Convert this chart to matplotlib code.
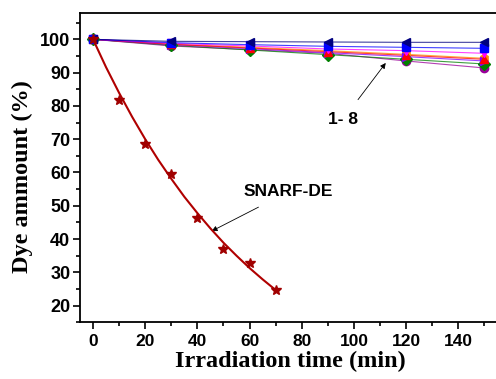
import matplotlib
matplotlib.use("Agg")
import matplotlib.pyplot as plt
from matplotlib.ticker import MultipleLocator

# ---- data ----
t_dyes = [0, 30, 60, 90, 120, 150]
dye1 = [100, 99.4, 99.3, 99.2, 99.1, 99.1]
dye2 = [100, 99.0, 98.4, 97.9, 97.6, 97.3]
dye3 = [100, 98.8, 98.0, 97.1, 96.6, 95.8]
dye4 = [100, 98.5, 97.4, 96.3, 95.2, 94.0]
dye5 = [100, 98.4, 97.2, 96.0, 94.8, 93.5]
dye6 = [100, 98.2, 96.8, 95.4, 94.0, 92.6]
dye7 = [100, 98.0, 96.9, 95.8, 93.5, 91.4]
dye8 = [100, 98.6, 97.6, 96.6, 95.5, 94.3]

t_snarf = [0, 10, 20, 30, 40, 50, 60, 70]
snarf = [100, 81.8, 68.6, 59.5, 46.3, 37.0, 32.7, 24.7]

t_fit = [0, 5, 10, 15, 20, 25, 30, 35, 40, 45, 50, 55, 60, 65, 70]
snarf_fit = [100, 91.6, 83.9, 76.7, 70.0, 63.8, 58.1, 52.7, 47.8, 43.2,
             38.9, 35.0, 31.3, 27.9, 24.7]

xticks = [0, 20, 40, 60, 80, 100, 120, 140]
yticks = [20, 30, 40, 50, 60, 70, 80, 90, 100]

series = [
    (dye8, "#ff8c00", "h"),
    (dye7, "#990099", "o"),
    (dye6, "#008000", "D"),
    (dye5, "#7f00ff", ">"),
    (dye4, "#ff0000", "^"),
    (dye3, "#ff00ff", "v"),
    (dye2, "#0000ff", "s"),
    (dye1, "#000080", "<"),
]

fig = plt.figure(figsize=(4.96, 3.79), dpi=100)
ax = fig.add_axes([80 / 496, 1 - 322.3 / 379, 420 / 496, (322.3 - 12.7) / 379])

for vals, col, mk in series:
    ax.plot(t_dyes, vals, color=col, lw=0.8, alpha=0.75, zorder=2)
    ax.plot(t_dyes, vals, ls="none", marker=mk, ms=6, color=col,
            markeredgecolor=col, zorder=3)

ax.plot(t_fit, snarf_fit, color="#b00000", lw=1.5, zorder=4)
ax.plot(t_snarf, snarf, ls="none", marker="*", ms=7.5, color="#a00000", zorder=5)

ax.set_xlim(-5, 156)
ax.set_ylim(15, 108)
ax.xaxis.set_minor_locator(MultipleLocator(10))
ax.yaxis.set_minor_locator(MultipleLocator(5))
ax.set_xticks(xticks)
ax.set_yticks(yticks)
ax.tick_params(which="major", direction="out", length=5, width=1.2,
               labelsize=12.5)
ax.tick_params(axis="y", which="major", pad=2, labelsize=13)
ax.tick_params(which="minor", direction="out", length=3, width=1.2)
for lab in ax.get_xticklabels() + ax.get_yticklabels():
    lab.set_fontfamily("Liberation Sans")
    lab.set_fontweight("bold")
for sp in ax.spines.values():
    sp.set_linewidth(1.3)

ax.set_xlabel("Irradiation time (min)", fontfamily="Liberation Serif",
              fontweight="bold", fontsize=17.5, labelpad=1)
ax.set_ylabel("Dye ammount (%)", fontfamily="Liberation Serif",
              fontweight="bold", fontsize=17.5)
ax.yaxis.set_label_coords(-0.112, 0.47)

ax.annotate("1- 8", xy=(112.2, 92.9), xytext=(95.7, 75.8),
            ha="center", va="center", fontsize=12.5, fontweight="bold",
            fontfamily="Liberation Sans",
            arrowprops=dict(arrowstyle="-|>", color="black", lw=0.6,
                            shrinkA=9, shrinkB=0, mutation_scale=8))
ax.annotate("SNARF-DE", xy=(45.5, 42.4), xytext=(74.9, 54.2),
            ha="center", va="center", fontsize=12.5, fontweight="bold",
            fontfamily="Liberation Sans",
            arrowprops=dict(arrowstyle="-|>", color="black", lw=0.6,
                            shrinkA=8, shrinkB=0, mutation_scale=8))

fig.savefig("out.png", dpi=100)
